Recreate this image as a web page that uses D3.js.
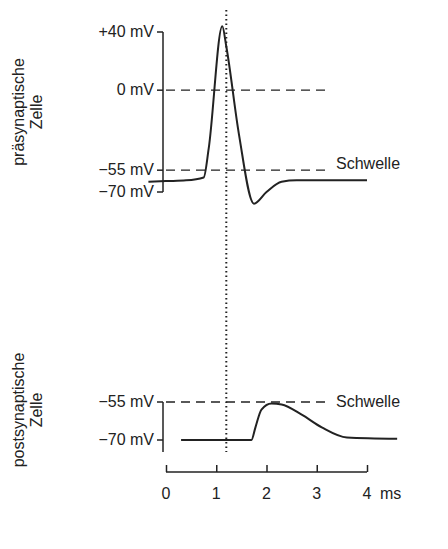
<!DOCTYPE html><html><head><meta charset="utf-8"><script src="https://cdn.jsdelivr.net/npm/d3@7"></script>
<style>body{margin:0;background:#fff}text{font-family:"Liberation Sans",Arial,sans-serif;fill:#222}</style></head><body><svg width="448" height="549"></svg><script>
const timeTicks=[0,1,2,3,4];
const preTicks=[40,0,-55,-70];
const preLabels=["+40 mV","0 mV","\u221255 mV","\u221270 mV"];
const postTicks=[-55,-70];
const postLabels=["\u221255 mV","\u221270 mV"];
const preT=[-0.35,0,0.4,0.75,0.85,1.12,1.2,1.45,1.75,2.0,2.3,2.6,4.0];
const preV=[-63,-62.5,-62,-60,-40,44,30,-30,-78,-70,-63,-62,-62];
const postT=[0.3,1.7,1.78,1.9,2.1,2.3,2.7,3.1,3.6,4.6];
const postV=[-70,-70,-65,-58,-55.6,-56,-60,-65,-69,-69.5];
const stimT=1.2;
const svg=d3.select("svg");
const x=d3.scaleLinear().domain([0,4]).range([166,367]);
const yPre=d3.scaleLinear().domain([-70,40]).range([192,32]);
const yPost=d3.scaleLinear().domain([-70,-55]).range([440,402]);
const ink="#222";
const xa=svg.append("g").attr("transform","translate(0,472)").call(d3.axisTop(x).tickValues(timeTicks).tickSize(7).tickFormat(""));
xa.select(".domain").attr("stroke",ink).attr("stroke-width",1.5).attr("d","M166,0H367");
xa.selectAll("line").attr("stroke",ink).attr("stroke-width",1.5);
svg.selectAll(".tl").data(timeTicks).join("text").attr("x",d=>x(d)).attr("y",499).attr("text-anchor","middle").attr("font-size",16).text(d=>d);
svg.append("text").attr("x",380).attr("y",499).attr("font-size",16).text("ms");
function yAxis(scale,ticks,labels,top,bot){
  const g=svg.append("g").attr("transform","translate(163,0)");
  g.append("line").attr("x1",0).attr("x2",0).attr("y1",top).attr("y2",bot).attr("stroke",ink).attr("stroke-width",1.5);
  ticks.forEach((t,i)=>{g.append("line").attr("x1",-6).attr("x2",0).attr("y1",scale(t)).attr("y2",scale(t)).attr("stroke",ink).attr("stroke-width",1.5);
   g.append("text").attr("x",-9).attr("y",scale(t)+5).attr("text-anchor","end").attr("font-size",16).text(labels[i]);});
}
yAxis(yPre,preTicks,preLabels,yPre(40),yPre(-70));
yAxis(yPost,postTicks,postLabels,402,452);
const dash=(y1,x1,x2)=>svg.append("line").attr("x1",x1).attr("x2",x2).attr("y1",y1).attr("y2",y1).attr("stroke",ink).attr("stroke-width",1.3).attr("stroke-dasharray","9,6");
dash(yPre(0),166,325);
dash(yPre(-55),166,330);
dash(yPost(-55),166,330);
svg.append("text").attr("x",336).attr("y",yPre(-55)-1).attr("font-size",16).text("Schwelle");
svg.append("text").attr("x",336).attr("y",yPost(-55)+5).attr("font-size",16).text("Schwelle");
const line=(ys)=>d3.line().x(d=>x(d[0])).y(d=>ys(d[1])).curve(d3.curveMonotoneX);
svg.append("path").datum(preT.map((t,i)=>[t,preV[i]])).attr("d",line(yPre)).attr("fill","none").attr("stroke",ink).attr("stroke-width",2);
svg.append("path").datum(postT.map((t,i)=>[t,postV[i]])).attr("d",line(yPost)).attr("fill","none").attr("stroke",ink).attr("stroke-width",2);
svg.append("line").attr("x1",x(stimT)).attr("x2",x(stimT)).attr("y1",10).attr("y2",452).attr("stroke",ink).attr("stroke-width",2).attr("stroke-dasharray","1.5,3");
function side(lines,cy){const t=svg.append("text").attr("transform",`translate(24,${cy}) rotate(-90)`).attr("text-anchor","middle").attr("font-size",16);
 lines.forEach((l,i)=>t.append("tspan").attr("x",0).attr("dy",i?18:0).text(l));}
side(["präsynaptische","Zelle"],112);
side(["postsynaptische","Zelle"],410);
</script></body></html>
